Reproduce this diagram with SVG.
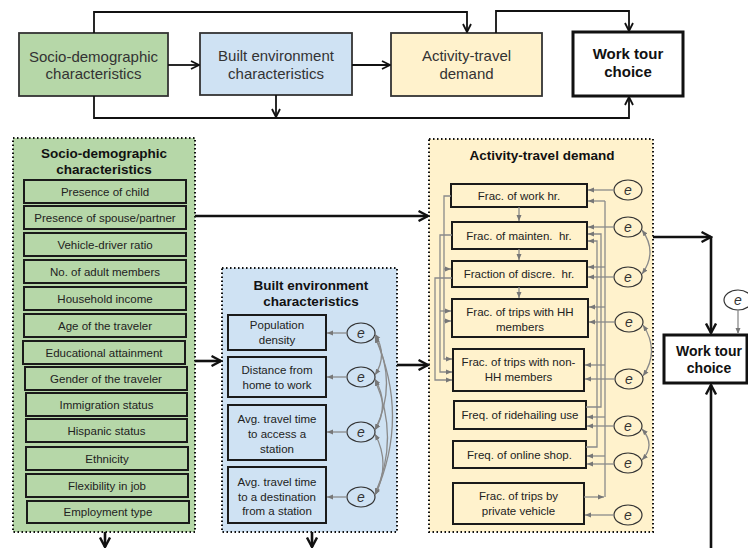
<svg xmlns="http://www.w3.org/2000/svg" width="748" height="548" viewBox="0 0 748 548">
<defs>
<style>
text{font-family:"Liberation Sans",Arial,sans-serif;fill:#222;text-anchor:middle}
.top{font-size:15px;fill:#333}
.topb{font-size:15px;font-weight:bold;fill:#111}
.wtb{font-size:14px;font-weight:bold;fill:#111}
.ttl{font-size:13.5px;font-weight:bold;fill:#111}
.it{font-size:11.5px}
.pre{white-space:pre}
.e{font-size:14px;font-style:italic;fill:#333}
.sd{fill:#b6d7a8}
.be{fill:#cfe2f3}
.at{fill:#fff2cc}
.box{stroke:#1a1a1a;stroke-width:2}
.tbox{stroke:#333;stroke-width:1.8}
.panel{stroke:#111;stroke-width:2;stroke-dasharray:1.5 2.5}
.ell{fill:none;stroke:#333;stroke-width:1.2}
.k{fill:none;stroke:#111;stroke-width:1.8}
.kb{fill:none;stroke:#111;stroke-width:2.6}
.g{fill:none;stroke:#8a8a8a;stroke-width:1.3}
</style>
<marker id="ar" markerUnits="userSpaceOnUse" viewBox="0 0 10 10" markerWidth="10" markerHeight="10" refX="9" refY="5" orient="auto"><path d="M1,1 L9,5 L1,9" fill="none" stroke="#111" stroke-width="1.8"/></marker>
<marker id="arb" markerUnits="userSpaceOnUse" viewBox="0 0 12 12" markerWidth="12" markerHeight="12" refX="10.5" refY="6" orient="auto"><path d="M1,1 L10.5,6 L1,11" fill="none" stroke="#111" stroke-width="2.4"/></marker>
<marker id="ga" markerUnits="userSpaceOnUse" viewBox="0 0 6 6" markerWidth="6" markerHeight="6" refX="6" refY="3" orient="auto-start-reverse"><path d="M0,0.5 L6,3 L0,5.5z" fill="#777"/></marker>
</defs>

<!-- overview row -->
<g id="top-sd"><rect class="sd tbox" x="19" y="33" width="149" height="63"/><text class="top" x="93.5" y="62">Socio-demographic</text><text class="top" x="93.5" y="79">characteristics</text></g>
<g id="top-be"><rect class="be tbox" x="200" y="33" width="152" height="62"/><text class="top" x="276" y="61">Built environment</text><text class="top" x="276" y="79">characteristics</text></g>
<g id="top-at"><rect class="at tbox" x="391" y="33" width="151" height="63"/><text class="top" x="466.5" y="61">Activity-travel</text><text class="top" x="466.5" y="79">demand</text></g>
<g id="top-wt"><rect fill="#fff" stroke="#111" stroke-width="3" x="573" y="32" width="110" height="64"/><text class="topb" x="628" y="59">Work tour</text><text class="topb" x="628" y="77">choice</text></g>

<g id="top-connectors">
<path class="k" d="M94,33 V12 H467 V32" marker-end="url(#ar)"/>
<path class="k" d="M496,33 V11 H629 V31" marker-end="url(#ar)"/>
<path class="k" d="M168,65 H199" marker-end="url(#ar)"/>
<path class="k" d="M352,65 H390" marker-end="url(#ar)"/>
<path class="k" d="M94,96 V118 H629 V97" marker-end="url(#ar)"/>
<path class="k" d="M276,95 V117" marker-end="url(#ar)"/>
</g>

<!-- socio-demographic panel -->
<g id="sd-panel">
<rect class="sd panel" x="13" y="138" width="182" height="394"/>
<text class="ttl" x="104" y="158">Socio-demographic</text>
<text class="ttl" x="104" y="174">characteristics</text>
</g>
<g id="sd-items">
<g id="sd1"><rect class="sd box" x="24" y="180" width="162" height="23"/><text class="it" x="105" y="195.5">Presence of child</text></g>
<g id="sd2"><rect class="sd box" x="24" y="206" width="162" height="23"/><text class="it" x="105" y="221.5">Presence of spouse/partner</text></g>
<g id="sd3"><rect class="sd box" x="24" y="233" width="162" height="23"/><text class="it" x="105" y="248.5">Vehicle-driver ratio</text></g>
<g id="sd4"><rect class="sd box" x="24" y="260" width="162" height="23"/><text class="it" x="105" y="275.5">No. of adult members</text></g>
<g id="sd5"><rect class="sd box" x="24" y="287" width="162" height="23"/><text class="it" x="105" y="302.5">Household income</text></g>
<g id="sd6"><rect class="sd box" x="24" y="314" width="162" height="23"/><text class="it" x="105" y="329.5">Age of the traveler</text></g>
<g id="sd7"><rect class="sd box" x="23" y="341" width="162" height="23"/><text class="it" x="104" y="356.5">Educational attainment</text></g>
<g id="sd8"><rect class="sd box" x="25" y="367" width="162" height="23"/><text class="it" x="106" y="382.5">Gender of the traveler</text></g>
<g id="sd9"><rect class="sd box" x="26" y="393" width="161" height="23"/><text class="it" x="106.5" y="408.5">Immigration status</text></g>
<g id="sd10"><rect class="sd box" x="26" y="419" width="161" height="23"/><text class="it" x="106.5" y="434.5">Hispanic status</text></g>
<g id="sd11"><rect class="sd box" x="26" y="447" width="162" height="23"/><text class="it" x="107" y="462.5">Ethnicity</text></g>
<g id="sd12"><rect class="sd box" x="26" y="474" width="162" height="23"/><text class="it" x="107" y="489.5">Flexibility in job</text></g>
<g id="sd13"><rect class="sd box" x="27" y="501" width="162" height="22"/><text class="it" x="108" y="516">Employment type</text></g>
</g>

<!-- built environment panel -->
<g id="be-panel">
<rect class="be panel" x="222" y="268" width="175" height="264"/>
<text class="ttl" x="311" y="290">Built environment</text>
<text class="ttl" x="311" y="306">characteristics</text>
</g>
<g id="be-items">
<g id="be1"><rect class="be box" x="228" y="315" width="98" height="35"/><text class="it" x="277" y="329">Population</text><text class="it" x="277" y="344">density</text></g>
<g id="be2"><rect class="be box" x="228" y="357" width="98" height="40"/><text class="it" x="277" y="374">Distance from</text><text class="it" x="277" y="389">home to work</text></g>
<g id="be3"><rect class="be box" x="228" y="405" width="98" height="55"/><text class="it" x="277" y="423">Avg. travel time</text><text class="it" x="277" y="438">to access a</text><text class="it" x="277" y="453">station</text></g>
<g id="be4"><rect class="be box" x="228" y="467" width="98" height="56"/><text class="it" x="277" y="486">Avg. travel time</text><text class="it" x="277" y="501">to a destination</text><text class="it" x="277" y="515">from a station</text></g>
</g>
<g id="be-errors">
<g id="be-e1"><ellipse class="ell" cx="361" cy="333" rx="14" ry="10"/><text class="e" x="361" y="338">e</text></g>
<g id="be-e2"><ellipse class="ell" cx="361" cy="377" rx="14" ry="10"/><text class="e" x="361" y="382">e</text></g>
<g id="be-e3"><ellipse class="ell" cx="361" cy="432" rx="14" ry="10"/><text class="e" x="361" y="437">e</text></g>
<g id="be-e4"><ellipse class="ell" cx="361" cy="497" rx="14" ry="10"/><text class="e" x="361" y="502">e</text></g>
</g>

<!-- activity-travel demand panel -->
<g id="at-panel">
<rect class="at panel" x="429" y="139" width="224" height="393"/>
<text class="ttl" x="542" y="160">Activity-travel demand</text>
</g>
<g id="at-items">
<g id="at1"><rect class="at box" x="451" y="184" width="136" height="23"/><text class="it" x="519" y="200">Frac. of work hr.</text></g>
<g id="at2"><rect class="at box" x="452" y="222" width="135" height="27"/><text class="it pre" x="519" y="240">Frac. of mainten.  hr.</text></g>
<g id="at3"><rect class="at box" x="452" y="261" width="135" height="26"/><text class="it pre" x="519" y="278">Fraction of discre.  hr.</text></g>
<g id="at4"><rect class="at box" x="452" y="299" width="136" height="38"/><text class="it" x="520" y="316">Frac. of trips with HH</text><text class="it" x="520" y="331">members</text></g>
<g id="at5"><rect class="at box" x="453" y="349" width="131" height="42"/><text class="it" x="518.5" y="366">Frac. of trips with non-</text><text class="it" x="518.5" y="381">HH members</text></g>
<g id="at6"><rect class="at box" x="454" y="401" width="132" height="28"/><text class="it" x="520" y="419">Freq. of ridehailing use</text></g>
<g id="at7"><rect class="at box" x="453" y="441" width="133" height="27"/><text class="it" x="519.5" y="459">Freq. of online shop.</text></g>
<g id="at8"><rect class="at box" x="453" y="483" width="131" height="41"/><text class="it" x="518.5" y="500">Frac. of trips by</text><text class="it" x="518.5" y="515">private vehicle</text></g>
</g>
<g id="at-errors">
<g id="at-e1"><ellipse class="ell" cx="628" cy="190" rx="14" ry="10"/><text class="e" x="628" y="195">e</text></g>
<g id="at-e2"><ellipse class="ell" cx="628" cy="227" rx="14" ry="10"/><text class="e" x="628" y="232">e</text></g>
<g id="at-e3"><ellipse class="ell" cx="628" cy="277" rx="14" ry="10"/><text class="e" x="628" y="282">e</text></g>
<g id="at-e4"><ellipse class="ell" cx="629" cy="322" rx="14" ry="10"/><text class="e" x="629" y="327">e</text></g>
<g id="at-e5"><ellipse class="ell" cx="629" cy="379" rx="14" ry="10"/><text class="e" x="629" y="384">e</text></g>
<g id="at-e6"><ellipse class="ell" cx="628" cy="426" rx="14" ry="10"/><text class="e" x="628" y="431">e</text></g>
<g id="at-e7"><ellipse class="ell" cx="628" cy="463" rx="14" ry="10"/><text class="e" x="628" y="468">e</text></g>
<g id="at-e8"><ellipse class="ell" cx="628" cy="515" rx="14" ry="10"/><text class="e" x="628" y="520">e</text></g>
</g>

<!-- outcome -->
<g id="wt"><rect fill="#fff" stroke="#111" stroke-width="3" x="664" y="335" width="83" height="48"/><text class="wtb" x="709" y="356">Work tour</text><text class="wtb" x="709" y="373">choice</text></g>
<g id="wt-e"><ellipse fill="#fff" stroke="#333" stroke-width="1.2" cx="738" cy="300" rx="14" ry="10"/><text class="e" x="738" y="305">e</text></g>

<g id="connectors">
<!-- block-level paths -->
<path class="kb" d="M195,216 H428" marker-end="url(#arb)"/>
<path class="kb" d="M195,361 H221" marker-end="url(#arb)"/>
<path class="kb" d="M397,365 H428" marker-end="url(#arb)"/>
<path class="kb" d="M105,532 V547" marker-end="url(#arb)"/>
<path class="kb" d="M312,532 V547" marker-end="url(#arb)"/>
<path class="kb" d="M653,237 H711" marker-end="url(#arb)"/>
<path class="kb" d="M711,237 V333" marker-end="url(#arb)"/>
<path class="kb" d="M711,548 V385" marker-end="url(#arb)"/>
<path class="g" d="M738,310 V334" marker-end="url(#ga)"/>

<!-- built environment errors -->
<path class="g" d="M347,333 H327" marker-end="url(#ga)"/>
<path class="g" d="M347,377 H327" marker-end="url(#ga)"/>
<path class="g" d="M347,432 H327" marker-end="url(#ga)"/>
<path class="g" d="M347,497 H327" marker-end="url(#ga)"/>
<path class="g" d="M375,334 Q388,355 375,375" marker-start="url(#ga)" marker-end="url(#ga)"/>
<path class="g" d="M375,336 Q398,384 375,430" marker-start="url(#ga)" marker-end="url(#ga)"/>
<path class="g" d="M375,337 Q410,417 375,495" marker-start="url(#ga)" marker-end="url(#ga)"/>
<path class="g" d="M375,379 Q390,405 375,430" marker-start="url(#ga)" marker-end="url(#ga)"/>
<path class="g" d="M375,380 Q400,438 375,494" marker-start="url(#ga)" marker-end="url(#ga)"/>
<path class="g" d="M375,434 Q391,464 375,495" marker-start="url(#ga)" marker-end="url(#ga)"/>

<!-- activity chain (centre) -->
<path class="g" d="M519,207 V221" marker-end="url(#ga)"/>
<path class="g" d="M519,249 V260" marker-end="url(#ga)"/>
<path class="g" d="M519,287 V298" marker-end="url(#ga)"/>

<!-- activity paths (left side) -->
<path class="g" d="M451,196 H444 V359 H452" marker-end="url(#ga)"/>
<path class="g" d="M444,269 H451" marker-end="url(#ga)"/>
<path class="g" d="M444,321 H451" marker-end="url(#ga)"/>
<path class="g" d="M452,235 H440 V372 H452" marker-end="url(#ga)"/>
<path class="g" d="M440,311 H451" marker-end="url(#ga)"/>
<path class="g" d="M452,278 H435 V380 H452" marker-end="url(#ga)"/>

<!-- activity paths (right side) -->
<path class="g" d="M605,201 V497"/>
<path class="g" d="M584,497 H604" marker-end="url(#ga)"/>
<path class="g" d="M605,201 H588" marker-end="url(#ga)"/>
<path class="g" d="M605,267 H588" marker-end="url(#ga)"/>
<path class="g" d="M605,307 H589" marker-end="url(#ga)"/>
<path class="g" d="M605,365 H585" marker-end="url(#ga)"/>
<path class="g" d="M605,417 H587" marker-end="url(#ga)"/>
<path class="g" d="M605,456 H587" marker-end="url(#ga)"/>
<path class="g" d="M586,407 H601 V234 H588" marker-end="url(#ga)"/>
<path class="g" d="M586,447 H597 V241 H588" marker-end="url(#ga)"/>

<!-- activity errors -->
<path class="g" d="M614,190 H588" marker-end="url(#ga)"/>
<path class="g" d="M614,227 H588" marker-end="url(#ga)"/>
<path class="g" d="M614,277 H588" marker-end="url(#ga)"/>
<path class="g" d="M615,322 H589" marker-end="url(#ga)"/>
<path class="g" d="M615,379 H585" marker-end="url(#ga)"/>
<path class="g" d="M614,426 H587" marker-end="url(#ga)"/>
<path class="g" d="M614,464 H587" marker-end="url(#ga)"/>
<path class="g" d="M614,515 H585" marker-end="url(#ga)"/>
<path class="g" d="M642,230 Q658,252 642,274" marker-start="url(#ga)" marker-end="url(#ga)"/>
<path class="g" d="M643,325 Q660,351 643,376" marker-start="url(#ga)" marker-end="url(#ga)"/>
<path class="g" d="M642,429 Q656,445 642,460" marker-start="url(#ga)" marker-end="url(#ga)"/>
</g>
</svg>
